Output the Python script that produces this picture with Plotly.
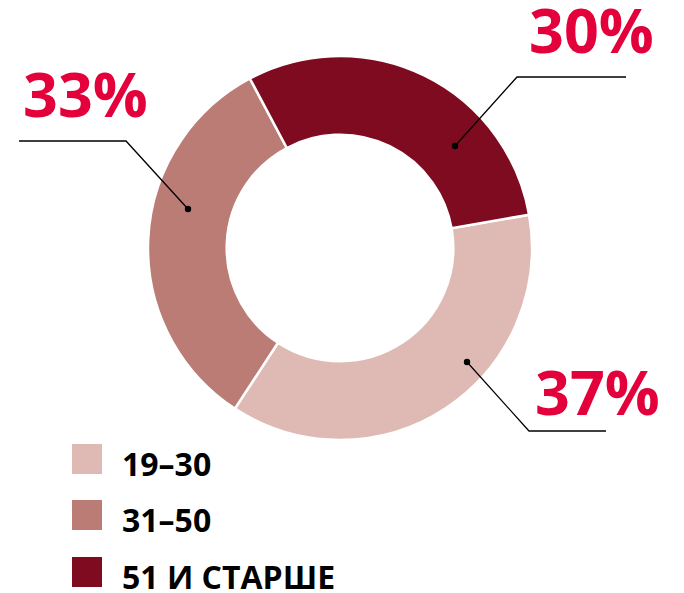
import plotly.graph_objects as go

W, H = 684, 593

# Data
categories = ["19–30", "31–50", "51 И СТАРШЕ"]
values = [37, 33, 30]
label_texts = ["37%", "33%", "30%"]
colors = ["#DFBAB5", "#BC7C76", "#7E0B1F"]
label_color = "#E4003B"


def X(px):
    return px / W


def Y(py):
    return 1 - py / H


# pie geometry (pixels)
cx, cy, r = 340, 248, 192

fig = go.Figure()
fig.add_trace(go.Pie(
    labels=categories,
    values=values,
    sort=False,
    direction="clockwise",
    rotation=80,
    hole=0.59,
    marker=dict(colors=colors, line=dict(color="white", width=2.5)),
    textinfo="none",
    hoverinfo="label+percent",
    showlegend=False,
    domain=dict(x=[X(cx - r), X(cx + r)], y=[Y(cy + r), Y(cy - r)]),
))

shapes = []
annotations = []

# leader lines: (dot, elbow, end) in pixels, and label centers
leaders = [
    ((467, 362), (529, 431), (606, 431)),   # 37%
    ((188, 209), (126, 141), (19, 141)),    # 33%
    ((455, 146), (517, 77), (626, 77)),     # 30%
]
label_pos = [(597, 392), (85, 93), (591, 29)]

for (d, e, f), txt, (lx, ly) in zip(leaders, label_texts, label_pos):
    path = f"M {X(d[0])},{Y(d[1])} L {X(e[0])},{Y(e[1])} L {X(f[0])},{Y(f[1])}"
    shapes.append(dict(type="path", xref="paper", yref="paper", path=path,
                       line=dict(color="black", width=1.3)))
    rr = 3.2
    shapes.append(dict(type="circle", xref="paper", yref="paper",
                       x0=X(d[0] - rr), x1=X(d[0] + rr), y0=Y(d[1] + rr), y1=Y(d[1] - rr),
                       fillcolor="black", line=dict(width=0)))
    annotations.append(dict(x=X(lx), y=Y(ly), xref="paper", yref="paper",
                            text=f"<b>{txt}</b>", showarrow=False,
                            xanchor="center", yanchor="middle",
                            font=dict(family="Open Sans", size=61, color=label_color)))

# custom legend
leg_top = [444, 500, 557]
for cat, col, top in zip(categories, colors, leg_top):
    shapes.append(dict(type="rect", xref="paper", yref="paper",
                       x0=X(72), x1=X(102), y0=Y(top + 30), y1=Y(top),
                       fillcolor=col, line=dict(width=0)))
    annotations.append(dict(x=X(120), y=Y(top + 19), xref="paper", yref="paper",
                            text=f"<b>{cat}</b>", showarrow=False,
                            xanchor="left", yanchor="middle",
                            font=dict(family="Open Sans", size=32, color="black")))

fig.update_layout(
    width=W, height=H, autosize=False,
    margin=dict(l=0, r=0, t=0, b=0),
    paper_bgcolor="white", plot_bgcolor="white",
    shapes=shapes, annotations=annotations,
)

fig.write_html(
    "out.html",
    config={"displayModeBar": False},
    post_script="document.body.style.margin='0';document.body.style.padding='0';"
                "document.body.style.overflow='hidden';",
)
